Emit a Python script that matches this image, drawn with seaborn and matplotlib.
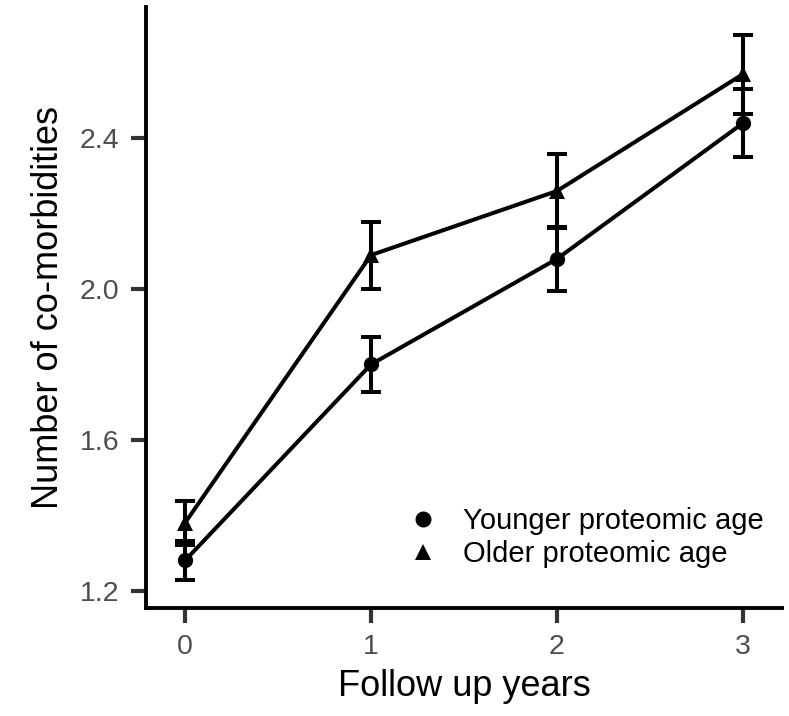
import matplotlib
matplotlib.use("Agg")
import matplotlib.pyplot as plt
import seaborn as sns
import pandas as pd
import numpy as np
from matplotlib.lines import Line2D

# ---- data ----
years = [0, 1, 2, 3]
groups = ["Younger proteomic age", "Older proteomic age"]
younger_mean = [1.28, 1.80, 2.08, 2.44]
younger_se = [0.053, 0.073, 0.085, 0.090]
older_mean = [1.38, 2.09, 2.26, 2.57]
older_se = [0.058, 0.089, 0.097, 0.105]
y_ticks = [1.2, 1.6, 2.0, 2.4]
x_ticks = [0, 1, 2, 3]

df = pd.DataFrame({
    "year": years * 2,
    "mean": younger_mean + older_mean,
    "se": younger_se + older_se,
    "group": [groups[0]] * 4 + [groups[1]] * 4,
})

sns.set_style("white")
plt.rcParams["font.family"] = ["Liberation Sans", "DejaVu Sans"]

fig = plt.figure(figsize=(7.89, 7.16), dpi=100)
ax = fig.add_axes([146 / 789, 1 - 608 / 716, (782 - 146) / 789, (608 - 7) / 716])

markers = {groups[0]: "o", groups[1]: "^"}
sns.lineplot(data=df, x="year", y="mean", style="group", markers=markers,
             dashes=False, color="black", linewidth=2.9, markersize=11,
             markeredgewidth=0, legend=False, ax=ax, zorder=3)

for g in groups:
    sub = df[df["group"] == g]
    ax.errorbar(sub["year"], sub["mean"], yerr=sub["se"], fmt="none",
                ecolor="black", elinewidth=2.9, capsize=7.5, capthick=2.9,
                zorder=4)

ax.set_xlim(-0.21, 3.21)
ax.set_ylim(1.154, 2.748)
ax.set_xticks(x_ticks)
ax.set_xticklabels([str(v) for v in x_ticks])
ax.set_yticks(y_ticks)
ax.set_yticklabels([f"{v:.1f}" for v in y_ticks])

for s in ["top", "right"]:
    ax.spines[s].set_visible(False)
for s in ["left", "bottom"]:
    ax.spines[s].set_color("black")
    ax.spines[s].set_linewidth(2.8)

ax.tick_params(axis="both", which="major", length=11, width=3,
               color="#333333", labelcolor="#4D4D4D", labelsize=20.5, pad=8,
               left=True, bottom=True)

ax.set_xlabel("Follow up years", fontsize=26, color="black", labelpad=6)
ax.set_ylabel("Number of co-morbidities", fontsize=26, color="black", labelpad=10)

handles = [Line2D([], [], marker=markers[g], linestyle="none", color="black",
                  markersize=11.5, markeredgewidth=0) for g in groups]
leg = fig.legend(handles, groups, loc="center left",
                 bbox_to_anchor=(408.75 / 789, 1 - 537.4 / 716),
                 frameon=False, fontsize=21, handlelength=1.0,
                 handletextpad=0.85, labelspacing=0.18, borderpad=0,
                 borderaxespad=0)
for t in leg.get_texts():
    t.set_color("black")

fig.savefig("out.png", dpi=100)
